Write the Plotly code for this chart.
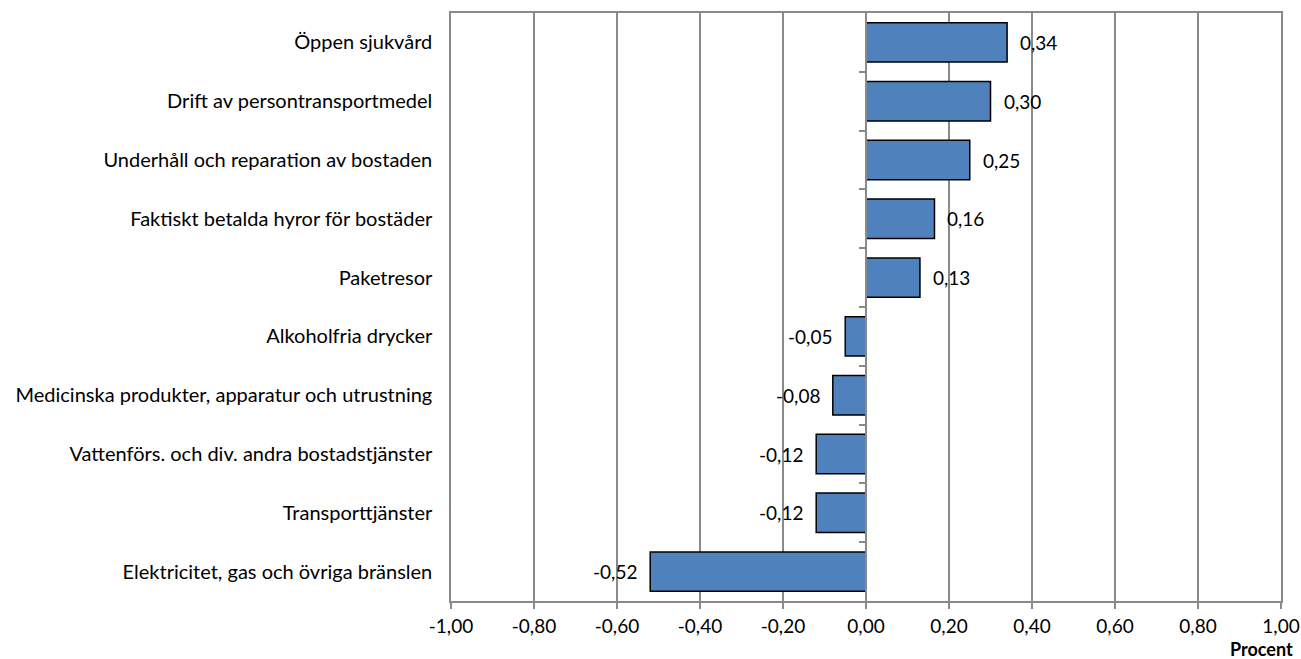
import plotly.graph_objects as go

categories = [
    "Öppen sjukvård",
    "Drift av persontransportmedel",
    "Underhåll och reparation av bostaden",
    "Faktiskt betalda hyror för bostäder",
    "Paketresor",
    "Alkoholfria drycker",
    "Medicinska produkter, apparatur och utrustning",
    "Vattenförs. och div. andra bostadstjänster",
    "Transporttjänster",
    "Elektricitet, gas och övriga bränslen",
]
values = [0.34, 0.30, 0.25, 0.165, 0.13, -0.05, -0.08, -0.12, -0.12, -0.52]
value_labels = ["0,34", "0,30", "0,25", "0,16", "0,13",
                "-0,05", "-0,08", "-0,12", "-0,12", "-0,52"]
tick_values = [-1.0, -0.8, -0.6, -0.4, -0.2, 0.0, 0.2, 0.4, 0.6, 0.8, 1.0]
tick_labels = ["-1,00", "-0,80", "-0,60", "-0,40", "-0,20", "0,00",
               "0,20", "0,40", "0,60", "0,80", "1,00"]
axis_title = "Procent"

boundaries = [i + 0.5 for i in range(len(categories) - 1)]

FONT = "Lato"
GRID = "#8a8a8a"

fig = go.Figure()
fig.add_trace(go.Bar(
    x=values, y=categories, orientation="h",
    width=0.67,
    marker=dict(color="#4f81bd", line=dict(color="black", width=1.5)),
    hoverinfo="skip",
))
# invisible trace carrying the zero-line axis with category-boundary ticks
fig.add_trace(go.Scatter(x=[0], y=[0], yaxis="y2", mode="markers",
                         marker=dict(opacity=0), showlegend=False, hoverinfo="skip"))

annotations = []
for cat, v, lab in zip(categories, values, value_labels):
    annotations.append(dict(
        x=v, y=cat, xref="x", yref="y", text=lab, showarrow=False,
        xanchor="left" if v >= 0 else "right", yanchor="middle",
        xshift=11 if v >= 0 else -11,
        font=dict(family=FONT, size=19, color="black"),
    ))
annotations.append(dict(
    text=f"<b>{axis_title}</b>", xref="paper", yref="paper",
    x=1, y=0, xanchor="right", yanchor="middle", xshift=13, yshift=-48,
    borderpad=0,
    showarrow=False, font=dict(family=FONT, size=18, color="black"),
))

fig.update_layout(
    template="none",
    width=1301, height=659,
    margin=dict(l=451, r=20, t=13, b=58),
    plot_bgcolor="white", paper_bgcolor="white",
    showlegend=False,
    font=dict(family=FONT, size=19, color="black"),
    xaxis=dict(
        automargin=False,
        range=[-1, 1], tickvals=tick_values, ticktext=tick_labels,
        showgrid=True, gridcolor=GRID, gridwidth=1.5,
        zeroline=False,
        showline=True, linecolor=GRID, linewidth=1.5, mirror=True,
        ticks="outside", ticklen=6, tickcolor=GRID, tickwidth=1.5,
        ticklabelstandoff=1,
        tickfont=dict(family=FONT, size=19, color="black"),
        fixedrange=True,
    ),
    yaxis=dict(
        automargin=False,
        autorange="reversed", showgrid=False, zeroline=False,
        showline=True, linecolor=GRID, linewidth=1.5, mirror=True,
        ticks="", ticklabelstandoff=13,
        tickfont=dict(family=FONT, size=20, color="black"),
    ),
    yaxis2=dict(
        automargin=False,
        overlaying="y", anchor="free", position=0.5,
        range=[len(categories) - 0.5, -0.5],
        tickvals=boundaries, showticklabels=False,
        ticks="outside", ticklen=6, tickcolor=GRID, tickwidth=1.5,
        showline=True, linecolor=GRID, linewidth=1.5,
        showgrid=False, zeroline=False,
    ),
    annotations=annotations,
)

fig.write_html("out.html", config={"displayModeBar": False},
               post_script="document.body.style.margin='0';")
